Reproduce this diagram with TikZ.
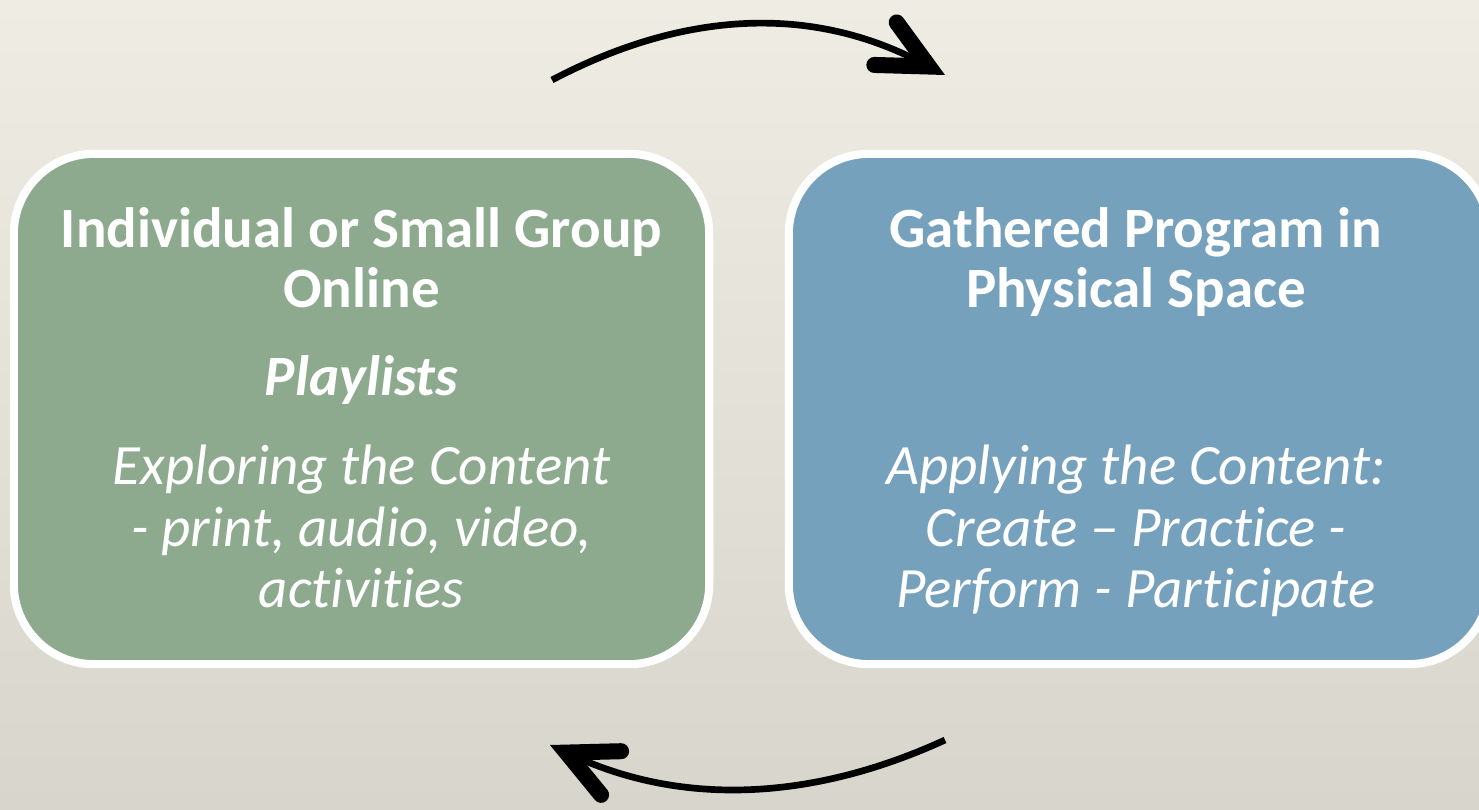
\documentclass[tikz,border=0pt]{standalone}
\usepackage{fontspec}
\setmainfont{Carlito}[Ligatures=NoCommon]
\usetikzlibrary{arrows.meta}

\definecolor{bgtop}{RGB}{239,236,228}
\definecolor{bgbot}{RGB}{216,213,204}
\definecolor{boxgreen}{RGB}{141,170,143}
\definecolor{boxblue}{RGB}{118,161,188}

\tikzset{
	panel/.style={draw=white, line width=2.3pt, rounded corners=0.8cm, inner sep=0pt},
	title/.style={text=white, font=\fontsize{16.2}{19}\selectfont\bfseries, anchor=base, inner sep=0pt},
	body/.style={text=white, font=\fontsize{16.2}{19}\selectfont\itshape, anchor=base, inner sep=0pt},
	cycle/.style={line width=1.9pt, -{Straight Barb[length=0.49cm, width=0.48cm, line width=0.16cm, line cap=round, line join=miter]}}
}

\begin{document}
\begin{tikzpicture}[x=0.01cm, y=-0.01cm]
	% background
	\shade[top color=bgtop, bottom color=bgbot] (0,0) rectangle (1479,809);
	\useasboundingbox (0,0) rectangle (1479,809);
	
	% boxes
	\node[panel, fill=boxgreen, minimum width=6.95cm, minimum height=5.10cm] (online) at (361.5,409) {};
	\node[panel, fill=boxblue, minimum width=7.00cm, minimum height=5.10cm] (gathered) at (1139,409) {};
	
	% online text
	\node[title] (online-t1) at (361.5,247) {Individual or Small Group};
	\node[title] (online-t2) at (361.5,307) {Online};
	\node[title, font=\fontsize{16.2}{19}\selectfont\bfseries\itshape] (online-t3) at (361.5,395) {Playlists};
	\node[body] (online-b1) at (361.5,484) {Exploring the Content};
	\node[body] (online-b2) at (361.5,546) {- print, audio, video,};
	\node[body] (online-b3) at (361.5,607) {activities};
	
	% gathered text
	\node[title] (gathered-t1) at (1136,247) {Gathered Program in};
	\node[title] (gathered-t2) at (1136,307) {Physical Space};
	\node[body] (gathered-b1) at (1136,484) {Applying the Content:};
	\node[body] (gathered-b2) at (1136,546) {Create -- Practice -};
	\node[body] (gathered-b3) at (1136,607) {Perform - Participate};
	
	% cycle arrows
	\coordinate (fwd-tail) at (552,80);
	\coordinate (fwd-head) at (945,75);
	\coordinate (back-tail) at (945,740);
	\coordinate (back-head) at (550,745);
	\draw[cycle] (fwd-tail) .. controls (685,10) and (812,5) .. (fwd-head);
	\draw[cycle] (back-tail) .. controls (812,801) and (683,806) .. (back-head);
\end{tikzpicture}
\end{document}
